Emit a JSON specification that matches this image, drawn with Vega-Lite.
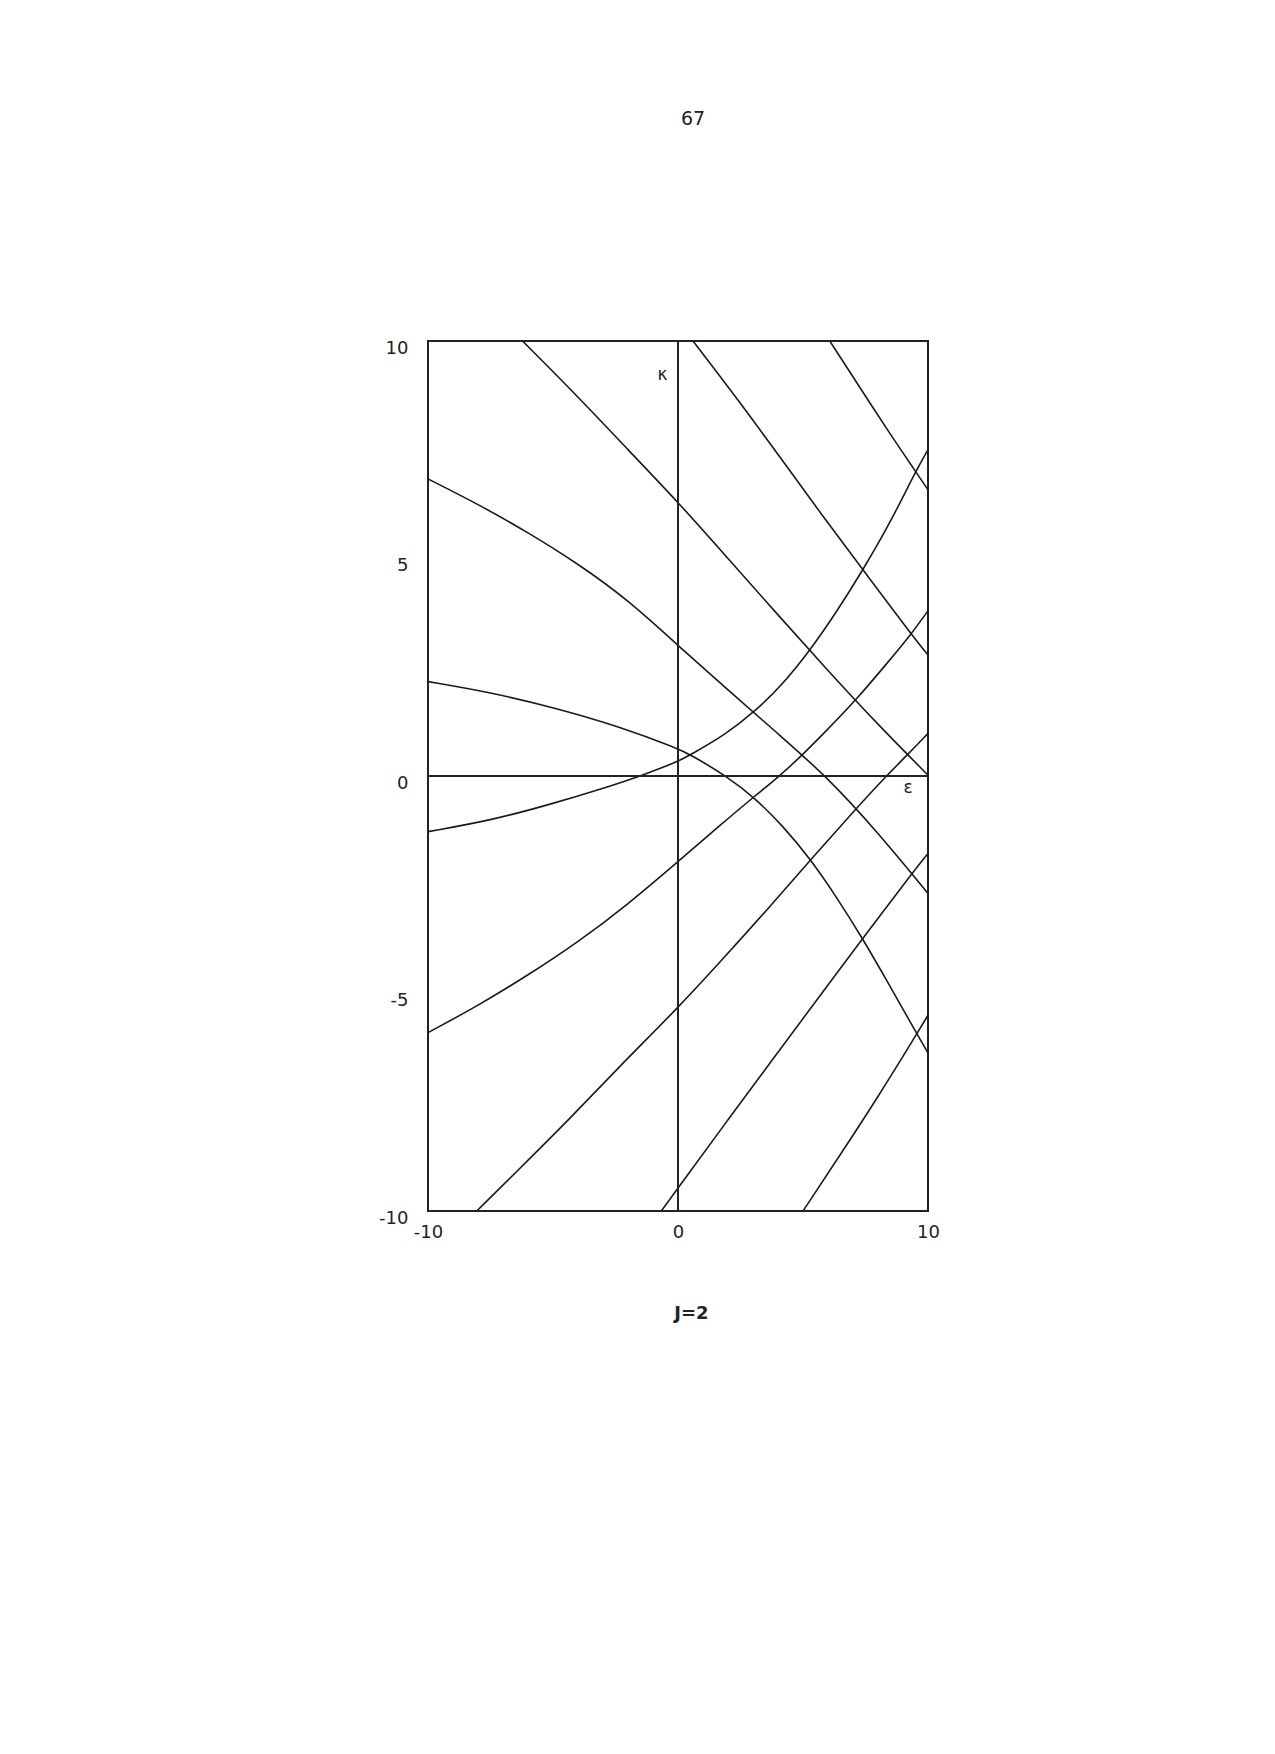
{
  "$schema": "https://vega.github.io/schema/vega-lite/v6.json",
  "width": 500,
  "height": 870,
  "autosize": "none",
  "padding": {"left": 428, "top": 341, "right": 347, "bottom": 543},
  "background": "white",
  "title": {"text": "67", "anchor": "middle", "dx": 15, "offset": 195, "baseline": "alphabetic", "font": "DejaVu Sans", "fontSize": 19, "fontWeight": "normal", "color": "#222"},
  "config": {
    "view": {"stroke": "#222", "strokeWidth": 2},
    "axis": {"grid": false, "ticks": false, "domain": false, "labelFont": "DejaVu Sans", "labelFontSize": 18, "labelColor": "#222", "labelFlush": false, "labelOverlap": false}
  },
  "datasets": {
    "curves": [
      {"c": "A", "x": -6.22, "y": 10}, {"c": "A", "x": -4, "y": 8.72}, {"c": "A", "x": -2, "y": 7.5}, {"c": "A", "x": 0, "y": 6.3}, {"c": "A", "x": 2, "y": 5.0}, {"c": "A", "x": 4, "y": 3.7}, {"c": "A", "x": 6, "y": 2.42}, {"c": "A", "x": 8, "y": 1.18}, {"c": "A", "x": 10, "y": 0.02},
      {"c": "B", "x": -10, "y": 6.83}, {"c": "B", "x": -8, "y": 6.25}, {"c": "B", "x": -6, "y": 5.6}, {"c": "B", "x": -4, "y": 4.88}, {"c": "B", "x": -2, "y": 4.05}, {"c": "B", "x": 0, "y": 3.0}, {"c": "B", "x": 2, "y": 1.98}, {"c": "B", "x": 4, "y": 0.97}, {"c": "B", "x": 5.93, "y": 0}, {"c": "B", "x": 8, "y": -1.3}, {"c": "B", "x": 10, "y": -2.7},
      {"c": "C", "x": -10, "y": 2.17}, {"c": "C", "x": -7.66, "y": 1.94}, {"c": "C", "x": -4.98, "y": 1.58}, {"c": "C", "x": -2.3, "y": 1.13}, {"c": "C", "x": 0, "y": 0.63}, {"c": "C", "x": 0.53, "y": 0.48}, {"c": "C", "x": 1.93, "y": 0}, {"c": "C", "x": 3.07, "y": -0.5}, {"c": "C", "x": 4.2, "y": -1.15}, {"c": "C", "x": 5.31, "y": -1.92}, {"c": "C", "x": 6.36, "y": -2.8}, {"c": "C", "x": 7.37, "y": -3.72}, {"c": "C", "x": 8.45, "y": -4.8}, {"c": "C", "x": 9.53, "y": -5.9}, {"c": "C", "x": 10, "y": -6.37},
      {"c": "D", "x": 0.6, "y": 10}, {"c": "D", "x": 2.4, "y": 8.65}, {"c": "D", "x": 4.4, "y": 7.08}, {"c": "D", "x": 5.73, "y": 6.02}, {"c": "D", "x": 7.4, "y": 4.74}, {"c": "D", "x": 9.33, "y": 3.26}, {"c": "D", "x": 10, "y": 2.78},
      {"c": "E", "x": 6.07, "y": 10}, {"c": "E", "x": 7.2, "y": 9.0}, {"c": "E", "x": 8.4, "y": 7.93}, {"c": "E", "x": 9.53, "y": 6.98}, {"c": "E", "x": 10, "y": 6.58},
      {"c": "F", "x": -10, "y": -1.28}, {"c": "F", "x": -7.39, "y": -1.01}, {"c": "F", "x": -4.98, "y": -0.63}, {"c": "F", "x": -2.97, "y": -0.28}, {"c": "F", "x": -1.5, "y": 0}, {"c": "F", "x": 0, "y": 0.33}, {"c": "F", "x": 0.53, "y": 0.5}, {"c": "F", "x": 1.89, "y": 0.95}, {"c": "F", "x": 3.07, "y": 1.48}, {"c": "F", "x": 4.18, "y": 2.1}, {"c": "F", "x": 5.27, "y": 2.88}, {"c": "F", "x": 6.33, "y": 3.76}, {"c": "F", "x": 7.4, "y": 4.74}, {"c": "F", "x": 8.47, "y": 5.8}, {"c": "F", "x": 9.53, "y": 7.03}, {"c": "F", "x": 10, "y": 7.5},
      {"c": "G", "x": -10, "y": -5.9}, {"c": "G", "x": -8, "y": -5.28}, {"c": "G", "x": -6, "y": -4.58}, {"c": "G", "x": -4, "y": -3.82}, {"c": "G", "x": -2, "y": -2.95}, {"c": "G", "x": 0, "y": -1.97}, {"c": "G", "x": 1.77, "y": -1.09}, {"c": "G", "x": 3.07, "y": -0.46}, {"c": "G", "x": 4.07, "y": 0}, {"c": "G", "x": 5.04, "y": 0.52}, {"c": "G", "x": 6, "y": 1.08}, {"c": "G", "x": 7.2, "y": 1.8}, {"c": "G", "x": 8.3, "y": 2.55}, {"c": "G", "x": 9.33, "y": 3.26}, {"c": "G", "x": 10, "y": 3.8},
      {"c": "H", "x": -8.05, "y": -10}, {"c": "H", "x": -6.38, "y": -9.05}, {"c": "H", "x": -4.36, "y": -7.9}, {"c": "H", "x": -2.35, "y": -6.68}, {"c": "H", "x": 0, "y": -5.33}, {"c": "H", "x": 1.77, "y": -4.22}, {"c": "H", "x": 3.53, "y": -3.1}, {"c": "H", "x": 5.31, "y": -1.92}, {"c": "H", "x": 7.2, "y": -0.7}, {"c": "H", "x": 8.33, "y": 0}, {"c": "H", "x": 9.2, "y": 0.5}, {"c": "H", "x": 10, "y": 0.98},
      {"c": "I", "x": -0.67, "y": -10}, {"c": "I", "x": 0, "y": -9.47}, {"c": "I", "x": 2, "y": -7.9}, {"c": "I", "x": 4, "y": -6.35}, {"c": "I", "x": 6, "y": -4.8}, {"c": "I", "x": 7.37, "y": -3.75}, {"c": "I", "x": 9.36, "y": -2.24}, {"c": "I", "x": 10, "y": -1.78},
      {"c": "J", "x": 5, "y": -10}, {"c": "J", "x": 6.5, "y": -8.7}, {"c": "J", "x": 8, "y": -7.38}, {"c": "J", "x": 9.53, "y": -5.95}, {"c": "J", "x": 10, "y": -5.5}
    ],
    "labels": [
      {"t": "κ", "x": -0.62, "y": 9.22},
      {"t": "ε", "x": 9.2, "y": -0.28}
    ],
    "axes0": [
      {"x0": 0, "y0": 0}
    ]
  },
  "layer": [
    {
      "data": {"name": "curves"},
      "mark": {"type": "line", "interpolate": "basis", "color": "#1a1a1a", "strokeWidth": 1.6, "clip": true},
      "encoding": {
        "x": {"field": "x", "type": "quantitative", "scale": {"domain": [-10, 10], "nice": false, "zero": false},
              "axis": {"values": [-10, 0, 10], "labelPadding": 12, "labelExpr": "replace(datum.label, '−', '-')", "title": "J=2", "titleFont": "DejaVu Sans", "titleFontSize": 18, "titleFontWeight": "bold", "titleColor": "#222", "titleX": 263, "titleY": 102, "titleBaseline": "middle"}},
        "y": {"field": "y", "type": "quantitative", "scale": {"domain": [-10, 10], "nice": false, "zero": false},
              "axis": {"values": [-10, -5, 0, 5, 10], "labelPadding": 20, "labelOffset": 7, "labelExpr": "replace(datum.label, '−', '-')", "title": null}},
        "detail": {"field": "c", "type": "nominal"}
      }
    },
    {
      "data": {"name": "axes0"},
      "mark": {"type": "rule", "color": "#222", "strokeWidth": 2},
      "encoding": {"x": {"field": "x0", "type": "quantitative"}}
    },
    {
      "data": {"name": "axes0"},
      "mark": {"type": "rule", "color": "#222", "strokeWidth": 2},
      "encoding": {"y": {"field": "y0", "type": "quantitative"}}
    },
    {
      "data": {"name": "labels"},
      "mark": {"type": "text", "font": "DejaVu Sans", "fontSize": 17, "color": "#222", "align": "center", "baseline": "middle"},
      "encoding": {
        "x": {"field": "x", "type": "quantitative"},
        "y": {"field": "y", "type": "quantitative"},
        "text": {"field": "t", "type": "nominal"}
      }
    }
  ]
}
